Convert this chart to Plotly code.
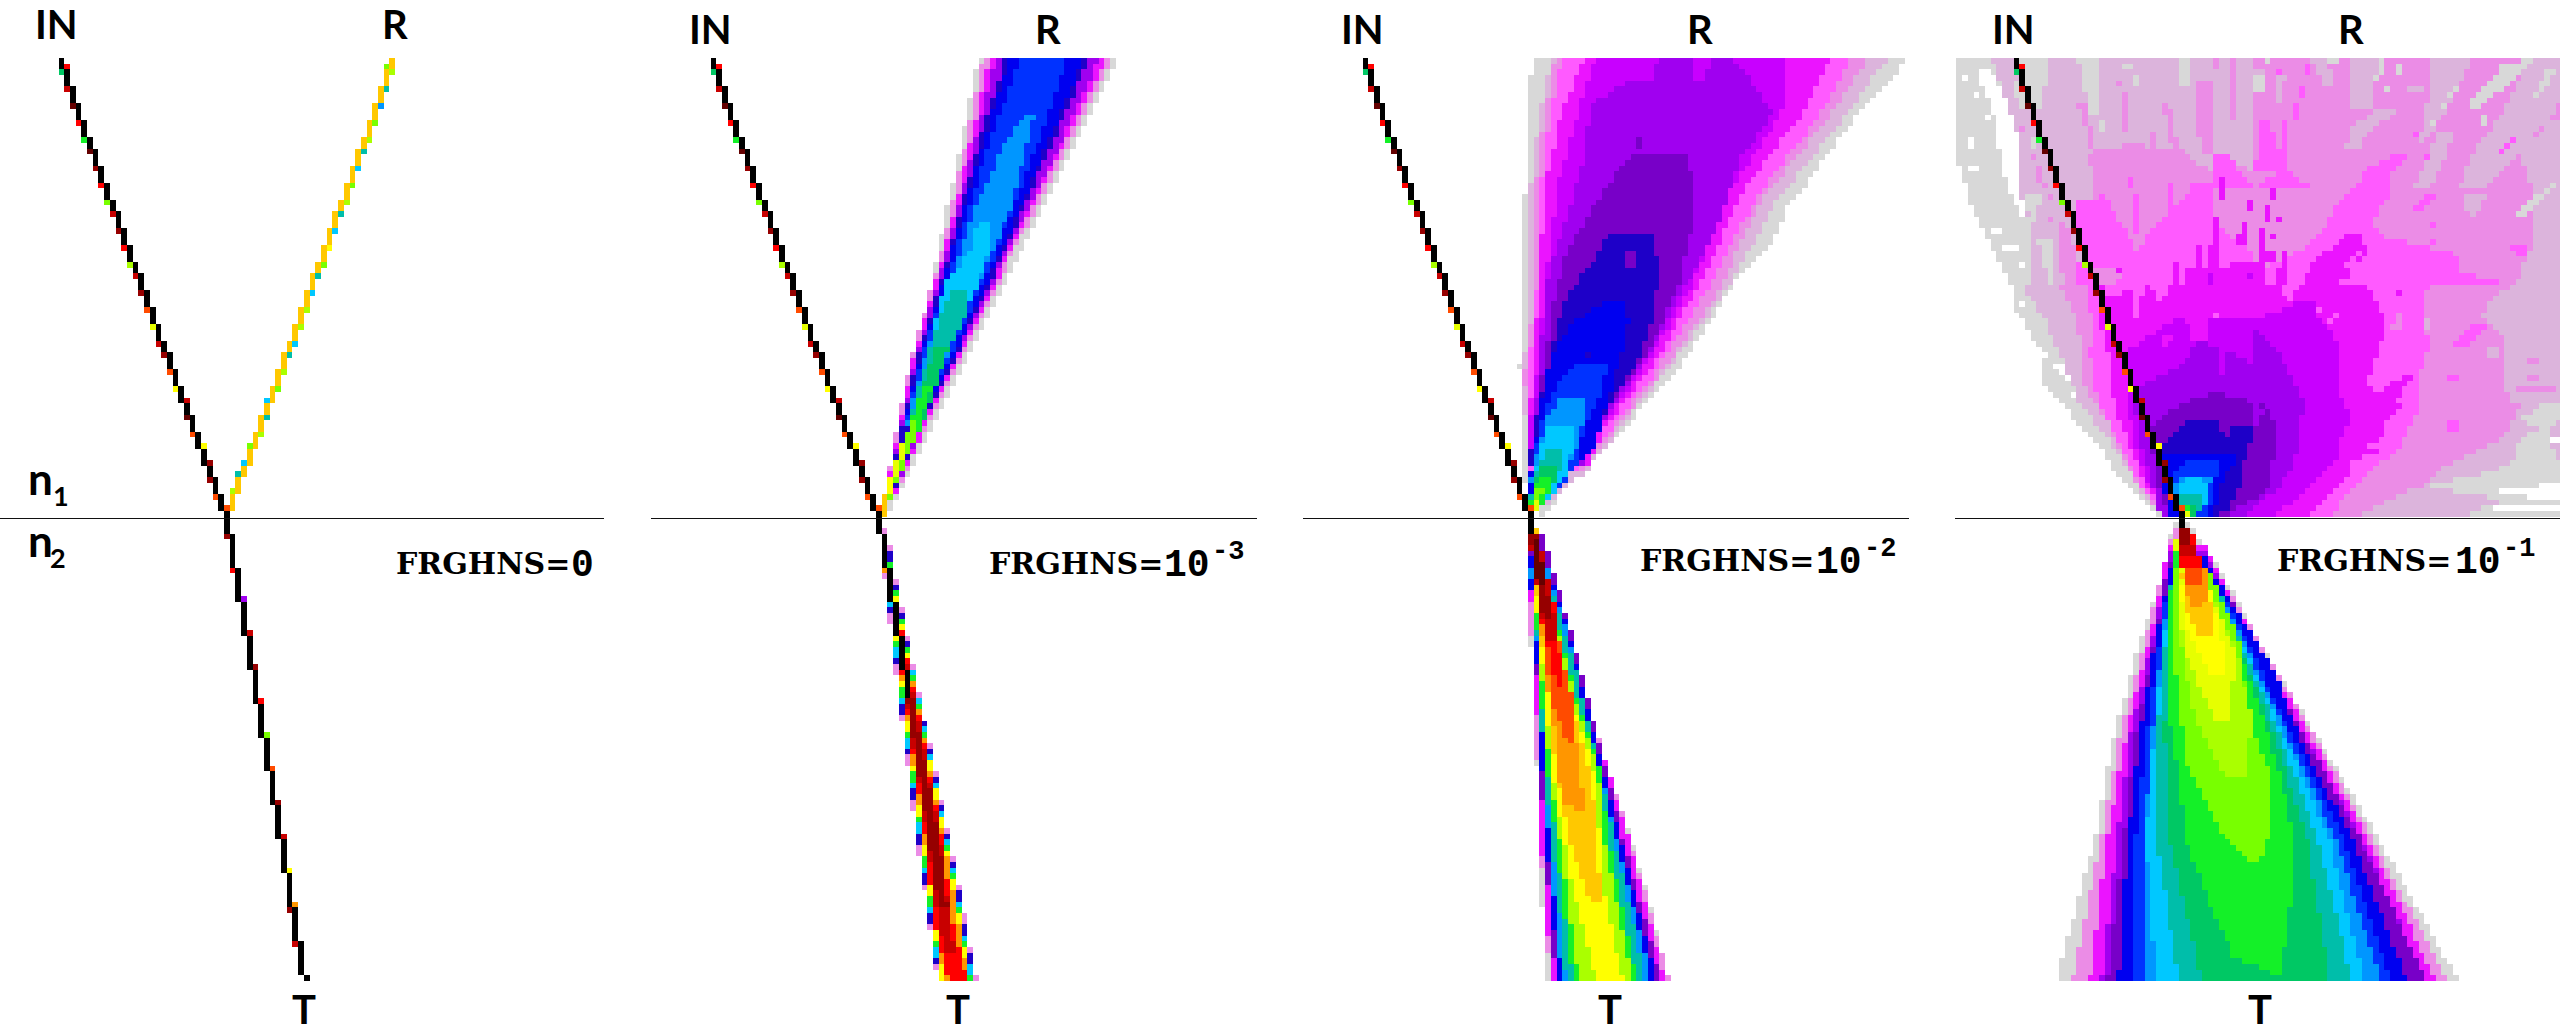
import numpy as np
import plotly.graph_objects as go

# Ordered intensity palette of the ray-density maps (level 0 = empty).
PALETTE = ["#FFFFFF", "#D8D8D8", "#DCB4DC", "#EB8CE6", "#FF5AFF", "#EB14FF", "#C800FF", "#A000F0",
           "#7800C8", "#1E00C8", "#0000F0", "#0032FF", "#0096FF", "#00C8FF", "#00BEAA", "#00C864",
           "#14F028", "#78FF00", "#AAFF00", "#E6FF00", "#FFFF00", "#FFC800", "#FF9600", "#FF4B00",
           "#FF0000", "#C80000", "#960000", "#640000", "#000000"]

RAY_LABELS = ["IN", "R", "T"]
TITLE_WORD = "FRGHNS="
TITLE_BASE = ["0", "10", "10", "10"]
TITLE_EXP = ["", "-3", "-2", "-1"]

# Iso-level outlines: (level, [(row, left, right), ...]) in read-off units.
R_P2 = [
 (1, [(162,805,1145),(1440,570,582)]),
 (3, [(170,815,1133),(400,772,1028),(700,716,893),(1000,640,764),(1200,603,676),(1400,572,596)]),
 (5, [(170,830,1115),(400,785,1015),(700,722,885),(1000,646,760),(1200,608,672),(1400,574,594)]),
 (7, [(170,845,1098),(400,793,1005),(700,728,878),(1000,652,752),(1200,612,664),(1400,576,592)]),
 (9, [(170,868,1075),(400,805,985),(700,735,870),(1000,656,748),(1200,614,660),(1400,578,590)]),
 (10,[(170,880,1062),(400,815,975),(700,740,862),(1000,662,745),(1200,620,655)]),
 (11,[(170,905,1022),(400,830,950),(700,750,850),(1000,665,735),(1200,622,650)]),
 (12,[(325,925,940),(375,885,925),(400,870,925),(600,790,880),(700,760,840),(1000,672,728),(1200,625,648)]),
 (13,[(620,800,830),(700,785,830),(800,720,800),(1000,680,725),(1200,628,645)]),
 (14,[(810,745,775),(900,705,770),(1000,680,720),(1100,655,695),(1200,630,640)]),
 (15,[(970,700,735),(1100,660,695),(1200,632,665),(1300,600,620)]),
 (16,[(1080,665,690),(1200,635,660),(1300,603,622)]),
 (17,[(1170,640,650),(1230,625,650),(1300,603,620),(1400,572,588)]),
 (19,[(1230,618,630),(1300,600,615),(1400,572,585)]),
 (20,[(1340,585,600),(1400,572,585)]),
 (21,[(1390,570,582),(1440,568,580)]),
]
T_P2 = [
 (3, [(90,558,582),(300,581,612),(600,610,664),(1000,652,734),(1417,704,800)]),
 (9, [(130,562,585),(300,584,610),(600,613,662),(1000,656,731),(1417,706,796)]),
 (13,[(180,567,590),(300,586,608),(600,616,660),(1000,660,728),(1417,708,790)]),
 (16,[(190,568,590),(300,588,606),(600,618,658),(1000,663,726),(1417,711,787)]),
 (20,[(200,570,590),(300,590,604),(600,620,656),(1000,666,724),(1417,714,783)]),
 (22,[(200,572,590),(300,592,602),(600,623,654),(1000,670,720),(1417,720,778)]),
 (24,[(210,575,590),(300,592,600),(600,625,652),(1000,674,716),(1250,695,742),(1417,732,775)]),
 (25,[(210,577,588),(300,593,600),(600,628,650),(1000,678,712),(1250,705,735),(1330,725,745)]),
 (26,[(300,594,600),(600,630,645),(1000,682,708),(1200,705,730)]),
]
R_P3 = [
 (1, [(162,573,1490),(262,558,1420),(300,558,1380),(500,558,1250),(590,545,1190),(650,545,1175),(800,545,1060),
      (1000,545,950),(1030,533,930),(1060,545,905),(1100,545,870),(1250,545,760),(1350,550,660),(1440,590,600)]),
 (2, [(162,615,1440),(320,587,1340),(560,560,1170),(840,558,1030),(1050,548,890),(1320,555,700),(1420,582,598)]),
 (3, [(162,625,1395),(320,598,1300),(560,572,1130),(840,572,1015),(1050,550,880),(1320,558,690)]),
 (4, [(162,640,1350),(320,612,1275),(560,585,1115),(800,580,1005),(1050,558,865),(1320,560,680)]),
 (5, [(162,697,1300),(320,640,1230),(520,600,1095),(800,585,975),(1000,572,878),(1200,560,745),(1300,560,710)]),
 (6, [(162,722,1190),(320,680,1180),(520,630,1060),(800,600,960),(1000,585,860),(1200,560,735),(1300,558,695)]),
 (7, [(170,875,1065),(300,710,1170),(450,695,1075),(600,655,1035),(800,600,945),(1000,590,850),(1200,570,730),(1300,560,690)]),
 (6, [(170,722,875),(230,800,860)]), (6, [(170,960,1010),(230,960,985)]), (6, [(170,1065,1170),(300,1150,1170)]),
 (7, [(300,880,895),(340,880,895)]),
 (8, [(440,810,950),(520,750,965),(600,710,970),(700,655,945),(800,628,930),(1000,600,845),(1150,580,750),(1300,558,680)]),
 (8, [(390,820,835),(420,820,835)]),
 (9, [(660,750,860),(730,720,875),(800,670,875),(900,630,860),(1000,615,835),(1150,582,750),(1300,558,670)]),
 (8, [(700,790,820),(745,790,820)]),
 (10,[(850,740,790),(900,670,805),(1000,615,785),(1100,595,760),(1250,575,720),(1380,558,625)]),
 (9, [(985,695,710),(1000,695,710)]),
 (11,[(1020,670,750),(1100,615,740),(1200,585,695),(1300,570,680),(1380,565,625)]),
 (12,[(1110,640,695),(1170,605,695),(1250,585,680),(1350,560,630)]),
 (13,[(1190,610,670),(1250,590,670),(1330,575,650),(1400,560,610)]),
 (14,[(1250,610,640),(1300,585,640),(1340,575,628),(1410,560,598)]),
 (15,[(1300,590,630),(1340,578,628),(1400,565,600)]),
 (16,[(1330,585,620),(1380,575,612),(1420,560,590)]),
 (17,[(1370,575,600),(1400,570,590)]),
 (19,[(1400,573,585),(1430,570,585)]),
 (23,[(1420,558,572),(1438,558,572)]),
]
T_P3 = [
 (1, [(100,560,590),(280,558,625),(660,575,718),(1030,587,820),(1417,600,905)]),
 (3, [(200,558,618),(600,572,705),(1000,588,808),(1417,612,905)]),
 (5, [(150,558,600),(500,575,680),(1000,590,805),(1417,615,895)]),
 (8, [(100,560,595),(400,575,665),(700,585,730),(1000,598,790),(1417,625,885)]),
 (10,[(170,558,600),(400,575,660),(700,588,722),(1000,602,785),(1417,632,872)]),
 (12,[(200,562,605),(400,578,655),(700,595,715),(1000,608,775),(1417,640,860)]),
 (14,[(280,572,620),(500,585,675),(800,598,735),(1000,615,770),(1417,652,845)]),
 (16,[(320,575,620),(600,592,680),(800,605,735),(1000,625,755),(1417,668,825)]),
 (18,[(350,580,625),(600,598,675),(800,612,730),(1000,635,745),(1417,682,815)]),
 (20,[(250,572,600),(600,603,670),(800,615,720),(1000,645,735),(1160,670,745),(1417,725,790)]),
 (21,[(90,575,585),(250,575,605),(600,610,665),(800,625,710),(1000,660,730),(1180,710,735)]),
 (22,[(260,585,605),(500,598,640),(700,625,675),(900,640,695),(912,680,695)]),
 (23,[(300,590,620),(450,600,640),(600,615,670),(712,655,670)]),
 (24,[(200,575,600),(330,585,625),(450,610,635),(550,628,640)]),
 (25,[(100,558,585),(320,590,620),(420,600,630)]),
 (26,[(100,560,585),(200,575,595),(350,595,615)]),
 (27,[(120,565,585),(250,582,600)]),
]
T_P4 = [
 (1, [(75,620,665),(200,600,735),(400,545,825),(700,475,975),(1000,430,1125),(1417,335,1320)]),
 (3, [(90,622,660),(300,578,775),(700,490,970),(1000,445,1110),(1417,375,1295)]),
 (5, [(130,610,700),(300,585,770),(700,505,960),(1000,460,1100),(1417,417,1265)]),
 (7, [(150,615,695),(300,592,765),(700,515,945),(1000,485,1085),(1417,445,1240)]),
 (8, [(180,605,700),(300,595,765),(700,528,945),(1000,500,1080),(1417,460,1240)]),
 (10,[(170,620,700),(300,597,760),(500,565,870),(700,540,930),(1000,510,1060),(1417,487,1195)]),
 (11,[(300,602,755),(700,555,915),(1000,530,1040),(1417,527,1155)]),
 (12,[(300,605,750),(700,570,905),(1000,550,1020),(1417,553,1130)]),
 (13,[(300,608,745),(700,575,895),(1000,555,1005),(1417,580,1090)]),
 (14,[(150,625,680),(300,610,745),(700,582,885),(1000,580,975),(1417,635,1060)]),
 (15,[(300,610,742),(700,600,870),(1000,612,950),(1417,692,1005)]),
 (16,[(150,628,675),(300,612,740),(600,605,830),(800,635,880),(1000,650,920),(1200,715,910),(1350,770,890),(1400,880,890)]),
 (17,[(200,627,705),(400,620,780),(650,640,810),(800,660,855),(1000,750,855),(1070,820,830)]),
 (18,[(300,630,725),(450,645,780),(650,675,815),(820,750,800)]),
 (19,[(120,628,665),(300,635,720),(450,650,775),(645,720,760)]),
 (20,[(250,632,710),(400,660,740),(515,710,745)]),
 (21,[(220,640,700),(330,655,718),(400,680,718)]),
 (22,[(180,640,695),(250,650,710),(315,665,695)]),
 (23,[(130,635,680),(250,650,690)]),
 (24,[(100,635,670),(200,640,690)]),
 (25,[(90,635,665),(170,640,675)]),
 (26,[(90,638,665),(140,640,660)]),
]

# Backscatter of the roughest surface, read quadrant by quadrant (same outline format, crop units).
P4_UPPER_LEFT = [
 (1, [(12,18,915),(300,18,915),(440,60,915),(500,85,915),(696,185,915)]),
 (0, [(40,75,120),(100,100,150),(200,135,205),(300,150,200),(400,170,215),(480,215,240)]),
 (0, [(60,35,52),(80,35,52)]), (0, [(110,70,85),(130,70,85)]), (0, [(180,105,120),(200,105,120)]),
 (0, [(250,50,65),(290,50,65)]), (0, [(340,55,85),(360,55,85)]), (0, [(520,120,150),(540,120,150)]),
 (0, [(570,155,200),(590,170,205)]), (0, [(620,205,220),(640,205,220)]),
 (2, [(12,125,915),(100,155,915),(250,205,915),(400,205,915),(500,240,915),(696,250,915)]),
 (1, [(12,215,300),(130,225,280),(170,255,280)]),
 (1, [(12,385,455),(120,405,455),(185,420,455)]),
 (1, [(12,690,720),(90,690,720)]), (1, [(200,455,470),(235,455,470)]), (1, [(35,520,555),(50,520,555)]),
 (1, [(70,555,570),(100,555,570)]), (1, [(80,190,220),(170,205,230)]), (1, [(250,235,255),(290,235,255)]),
 (1, [(420,230,270),(500,235,265)]), (1, [(560,265,305),(696,300,320)]),
 (3, [(290,430,690),(350,400,915),(400,440,915),(500,400,915),(696,400,915)]),
 (2, [(300,700,760),(390,860,890)]), (2, [(330,340,430),(420,390,440)]),
 (3, [(85,505,520),(240,525,540)]), (3, [(150,385,405),(280,420,440)]),
 (3, [(12,790,810),(50,790,810)]), (3, [(85,740,790),(300,750,790)]),
 (3, [(12,835,860),(200,840,860)]), (3, [(240,610,625),(300,610,625)]),
 (3, [(150,640,660),(290,665,685)]), (3, [(270,520,590),(330,500,590)]),
 (3, [(220,205,220),(240,205,220)]), (3, [(300,235,255),(320,235,255)]),
 (3, [(340,255,270),(400,270,290)]), (3, [(420,285,305),(440,285,305)]),
 (3, [(500,320,350),(696,340,400)]), (3, [(480,290,310),(500,290,310)]),
 (4, [(380,740,800),(500,640,790),(600,540,915),(696,500,915)]),
 (4, [(620,370,415),(696,390,440)]), (4, [(300,790,830),(400,800,915)]),
 (4, [(440,385,470),(560,385,550),(640,430,540)]), (4, [(375,535,555),(400,535,555)]),
 (4, [(420,455,470),(470,455,470)]), (4, [(420,555,570),(540,555,575)]), (4, [(390,660,670),(480,660,670)]),
 (5, [(375,808,822),(435,808,822)]), (5, [(490,790,805),(580,790,805)]), (5, [(575,740,755),(650,740,755)]),
 (5, [(575,775,805),(696,775,805)]), (5, [(625,675,690),(696,675,690)]), (5, [(640,710,915),(696,710,915)]),
 (5, [(505,875,890),(580,860,890)]), (5, [(620,840,915),(696,840,915)]), (5, [(640,505,520),(655,505,520)]),
 (5, [(435,890,905),(470,890,905)]), (6, [(655,775,790),(685,775,790)]), (6, [(655,890,910),(675,890,910)]),
]
P4_UPPER_RIGHT = [
 (3, [(12,0,915),(696,0,915)]),
 (2, [(12,280,380),(170,285,345)]), (2, [(12,170,220),(100,210,235)]),
 (2, [(12,520,650),(140,520,590),(270,490,510)]),
 (2, [(12,830,915),(150,760,915),(290,660,800),(400,610,690)]),
 (2, [(200,880,915),(300,800,915),(400,830,915),(550,840,915),(696,780,915)]),
 (2, [(170,360,430),(210,300,370),(280,270,310)]), (2, [(90,450,510),(110,450,510)]),
 (2, [(60,70,95),(150,60,75)]), (2, [(40,0,25),(120,0,25)]),
 (2, [(240,550,600),(400,480,530)]), (2, [(420,620,700),(480,640,660)]),
 (4, [(300,430,470),(350,330,410),(400,300,410),(450,240,390),(500,220,350),(550,180,400),(600,120,600),(650,0,620),(696,0,770)]),
 (4, [(200,20,45),(350,0,90)]), (4, [(200,75,95),(350,75,95),(400,0,175)]),
 (4, [(100,125,145),(130,125,145)]), (4, [(30,145,160),(70,145,160)]), (4, [(150,110,125),(200,110,125)]),
 (4, [(250,765,780),(300,720,750)]), (4, [(420,520,545),(470,470,495)]), (4, [(235,480,495),(250,480,495)]),
 (4, [(510,530,545),(520,530,545)]), (4, [(550,520,545),(570,520,545)]), (4, [(580,760,815),(610,790,830)]),
 (4, [(300,510,525),(320,510,525)]), (4, [(50,60,75),(65,60,75)]),
 (5, [(530,300,310),(580,230,330),(620,170,280),(696,140,240)]),
 (5, [(590,320,340),(620,310,325)]), (5, [(640,265,295),(680,245,275)]),
 (5, [(520,10,25),(696,0,30)]), (5, [(590,25,60),(620,25,60)]), (5, [(590,75,95),(640,75,95)]),
 (5, [(640,60,95),(696,60,95)]), (5, [(400,45,60),(435,45,60)]), (5, [(455,25,45),(500,25,45)]),
 (5, [(490,60,75),(500,60,75)]), (5, [(540,45,60),(552,45,60)]), (5, [(575,325,345),(590,325,345)]),
 (1, [(60,0,22),(120,0,22)]), (1, [(20,800,830),(90,700,760),(160,650,680)]),
 (1, [(20,375,395),(80,360,378)]), (1, [(35,430,445),(70,430,445)]), (1, [(100,680,710),(140,650,670)]),
 (1, [(30,730,800),(80,720,770)]), (1, [(200,530,545),(215,530,545)]), (1, [(180,680,695),(215,680,695)]),
 (1, [(380,900,915),(420,850,880),(480,790,810)]), (1, [(40,880,915),(130,830,850)]),
 (1, [(100,590,610),(130,580,595)]), (1, [(150,565,580),(165,565,580)]), (1, [(15,25,45),(30,25,45)]),
 (1, [(15,225,245),(30,225,245)]), (1, [(100,395,410),(115,395,410)]),
]
P4_LOWER_LEFT = [
 (1, [(0,185,915),(50,185,915),(100,215,915),(150,240,915),(200,290,915),(245,270,915),(300,285,915),(350,335,915),
      (400,370,915),(450,420,915),(500,460,915),(550,490,915),(600,530,915),(650,590,915),(696,640,915)]),
 (0, [(40,205,220),(70,220,240)]), (0, [(240,310,340),(280,340,360)]), (0, [(310,370,385),(330,370,385)]),
 (2, [(0,220,915),(50,250,915),(100,290,915),(150,300,915),(200,330,915),(250,345,915),(300,370,915),(350,385,915),
      (400,430,915),(450,470,915),(500,500,915),(550,535,915),(600,560,915),(650,600,915),(696,640,915)]),
 (3, [(0,330,915),(100,380,915),(200,395,915),(300,400,915),(400,470,915),(500,510,915),(600,570,915),(650,610,915),(696,640,915)]),
 (4, [(0,410,915),(50,410,915),(100,430,915),(200,420,915),(300,430,915),(400,470,915),(500,520,915),(600,575,915),(650,620,915),(696,640,915)]),
 (5, [(0,455,915),(60,440,915),(200,475,915),(300,485,915),(400,505,915),(500,550,915),(600,585,915),(650,630,915),(696,640,915)]),
 (4, [(0,460,535),(30,470,520)]), (4, [(0,535,585),(60,555,570),(105,555,570)]), (4, [(0,605,655),(50,620,640)]),
 (4, [(80,790,805),(110,790,805)]), (4, [(90,690,705),(130,690,705)]),
 (6, [(100,680,915),(150,600,915),(200,525,915),(300,530,915),(400,540,915),(500,560,915),(600,600,915),(650,640,915),(696,640,915)]),
 (5, [(100,710,770),(170,730,770)]), (5, [(140,640,670),(190,640,655)]),
 (7, [(170,740,760),(230,700,915),(300,580,915),(350,555,915),(400,560,915),(500,580,915),(600,610,915),(670,620,915),(696,640,880)]),
 (6, [(180,800,815),(260,810,830)]), (6, [(150,880,915),(220,880,915)]),
 (8, [(320,790,810),(350,710,915),(380,650,915),(420,610,915),(500,610,915),(600,625,915),(640,640,915),(660,640,870),(696,670,830)]),
 (7, [(295,740,755),(310,740,755)]),
 (9, [(400,710,800),(430,680,805),(480,640,880),(560,640,885),(620,640,860),(660,660,840),(696,680,800)]),
 (9, [(415,840,915),(520,840,890)]),
 (10,[(500,640,855),(520,640,860),(600,640,810),(696,660,790)]),
 (11,[(530,710,800),(570,660,800),(630,660,790),(696,690,770)]),
 (12,[(580,680,790),(600,670,780),(650,680,770)]),
 (13,[(565,725,740),(600,690,775),(630,680,770),(680,690,760)]),
 (14,[(630,690,755),(680,690,755)]),
 (15,[(650,690,740),(696,720,740)]),
 (16,[(650,690,725),(680,695,725)]),
 (22,[(665,690,705),(696,690,705)]),
 (19,[(680,705,725),(696,705,725)]),
]
P4_LOWER_RIGHT = [
 (2, [(0,0,915),(696,0,915)]),
 (1, [(360,850,915),(400,800,915),(430,850,880),(470,780,880),(520,780,915),(560,700,915),(600,510,915),(640,750,915),(696,610,915)]),
 (0, [(450,880,915),(465,880,915)]), (0, [(565,770,915),(580,760,915)]), (0, [(585,660,730),(595,660,730)]),
 (0, [(585,850,915),(600,850,915)]), (0, [(610,730,915),(620,730,915)]), (0, [(620,580,750),(630,580,750)]),
 (0, [(630,810,915),(645,810,915)]), (0, [(650,630,915),(660,630,915)]), (0, [(665,710,915),(680,710,915)]),
 (3, [(0,0,760),(100,0,700),(150,0,750),(200,0,740),(300,0,750),(400,0,780),(450,0,750),(500,0,650),(550,0,550),(600,0,500),(650,0,380),(696,0,300)]),
 (2, [(20,730,760),(100,670,700)]), (2, [(100,500,520),(130,500,520)]), (2, [(180,690,740),(210,690,740)]),
 (3, [(300,780,900),(320,780,900)]), (3, [(270,815,860),(280,815,860)]), (3, [(210,810,850),(225,810,850)]),
 (3, [(345,770,830),(380,720,780)]), (3, [(450,640,680),(480,620,660)]), (3, [(530,500,545),(545,500,545)]),
 (4, [(0,0,520),(100,0,500),(150,0,520),(200,0,520),(250,0,500),(300,0,500),(350,0,500),(400,0,480),(450,0,450),(500,0,420),(550,0,350),(600,0,300),(650,0,250),(696,0,240)]),
 (3, [(85,430,445),(130,410,430)]), (4, [(120,650,700),(175,590,650)]), (4, [(260,580,610),(280,580,610)]), (4, [(410,580,610),(430,580,610)]),
 (5, [(0,0,340),(100,0,395),(170,0,380),(250,0,350),(300,0,330),(350,0,440),(380,0,430),(410,0,395),(450,0,395),(480,0,330),(500,0,375),(520,0,280),(570,0,295),(600,0,240),(640,0,220),(696,0,140)]),
 (5, [(265,460,495),(290,415,460),(330,360,430)]), (5, [(10,430,445),(30,410,430)]),
 (4, [(0,80,125),(50,95,110)]), (4, [(60,175,195),(80,175,195)]), (4, [(85,230,250),(110,225,240)]),
 (6, [(50,130,180),(100,0,190),(150,0,240),(200,0,260),(300,0,245),(400,0,290),(450,0,260),(500,0,260),(550,0,210),(600,0,160),(650,0,110),(696,0,40)]),
 (7, [(130,0,10),(200,0,75),(300,0,125),(350,0,145),(400,0,140),(450,0,125),(500,0,125),(550,0,110),(600,0,75),(650,0,10)]),
 (8, [(330,0,10),(380,25,45),(420,0,60),(500,0,60),(550,0,45),(600,0,40),(640,0,10)]),
 (9, [(550,8,25),(562,8,25)]),
]

# Coloured cells at the stair joints of the pencil-thin rays: (row, level).
IN_ACCENTS = [(190,24),(222,15),(270,25),(317,27),(363,24),(395,16),(440,27),(488,26),(535,24),(566,17),(612,25),
              (660,26),(707,24),(740,18),(787,25),(833,26),(880,23),(911,19),(958,25),(1005,26),(1052,23),(1083,20),
              (1130,25),(1177,27),(1224,23),(1257,20),(1303,26),(1350,26),(1398,23),(1430,23)]
R_ACCENTS = [(1430,17),(1383,18),(1335,14),(1303,13),(1257,17),(1210,18),(1163,14),(1130,13),(1083,17),(1037,18),
             (990,14),(958,13),(911,18),(865,18),(817,13),(787,14),(740,17),(693,20),(645,13),(613,14),(566,18),
             (519,17),(472,13),(441,14),(394,18),(347,17),(300,12),(270,14),(222,18),(173,17)]
T_ACCENTS = [(260,26),(350,24),(425,7),(513,25),(603,26),(690,24),(780,17),(855,23),(943,26),(1032,25),(1120,20),
             (1195,22),(1283,26),(1373,25)]

# Read-off scales (units per picture pixel) and the picture frame.
SX, SY_UP, SY_LOW, SY_T1 = 2.45, 2.8, 2.947, 2.65
ROW_UP, ROW_LOW, ROW_T1 = 1453, 57, 210
APEX_READ = [555, 560, 565, 643]
APEX_X = [227, 879, 1531, 2182]
IFACE_Y, TOP_Y, BOT_Y = 518.5, 58.0, 980.6
CELL_W, CELL_H = 5.71, 5.66
IN_TIP, R_TIP, T_TIP = (-168, -461), (168, -461), (78, 462)
T_BLACK_END = [462, 180, 17, 12]
HLINE = [(0, 604), (651, 1257), (1303, 1909), (1955, 2560)]
CROPS_P4 = [(P4_UPPER_LEFT, 1950, 54), (P4_UPPER_RIGHT, 2255, 54), (P4_LOWER_LEFT, 1950, 286), (P4_LOWER_RIGHT, 2255, 286)]

nrow = int(round((BOT_Y - TOP_Y) / CELL_H))
col_lo, col_hi = -42, 67
ys = TOP_Y + (np.arange(nrow) + 0.5) * CELL_H - IFACE_Y
us = np.arange(col_lo, col_hi) * CELL_W


def paint(z, outlines, sx, sy, row0, apex):
    for level, rows in outlines:
        r = np.array(sorted(rows), float)
        v = (r[:, 0] - row0) / sy
        l = (r[:, 1] - apex) / sx
        h = (r[:, 2] - apex) / sx
        for i, y in enumerate(ys):
            if v[0] <= y <= v[-1] and ((y < 0) == (v[0] < 0)):
                a, b = np.interp(y, v, l), np.interp(y, v, h)
                z[i, (us >= a - 1e-6) & (us < b)] = level if level else np.nan


def ray(z, tip, level, v_end=None, accents=(), acc_v=None):
    """One-cell-wide ray from the apex to its tip; accents sit at the nearest stair joint."""
    lim = abs(tip[1]) if v_end is None else v_end
    cols = {}
    for i, y in enumerate(ys):
        if (y < 0) == (tip[1] < 0) and abs(y) <= lim:
            c = int(round(y / tip[1] * tip[0] / CELL_W)) - col_lo
            z[i, c] = level
            cols[i] = c
    joints = [i for i in cols if i + 1 in cols and cols[i] != cols[i + 1]]
    for row, lv in accents:
        i = int(np.argmin(np.abs(ys - acc_v(row))))
        if not joints:
            continue
        j = min(joints, key=lambda k: abs(k + 0.5 - i))
        if i > j:
            z[j + 1, cols[j]] = lv
        else:
            z[j, cols[j + 1]] = lv


acc_up = lambda r: (r - ROW_UP) / SY_UP
acc_t = lambda r: (r - ROW_T1) / SY_T1

BEAMS = [([], []), (R_P2, T_P2), (R_P3, T_P3), ([], T_P4)]
colorscale = []
for i, c in enumerate(PALETTE):
    colorscale += [[i / len(PALETTE), c], [(i + 1) / len(PALETTE), c]]

fig = go.Figure()
for p in range(4):
    z = np.full((nrow, col_hi - col_lo), np.nan)
    up, low = BEAMS[p]
    paint(z, up, SX, SY_UP, ROW_UP, APEX_READ[p])
    paint(z, low, SX, SY_LOW, ROW_LOW, APEX_READ[p])
    if p == 3:
        for table, cx, cy in CROPS_P4:
            paint(z, table, 3, 3, (IFACE_Y - cy) * 3, (APEX_X[p] - cx) * 3)
    if p == 0:
        ray(z, R_TIP, 21, accents=R_ACCENTS, acc_v=acc_up)
    ray(z, IN_TIP, 28, accents=IN_ACCENTS, acc_v=acc_up)
    ray(z, T_TIP, 28, v_end=T_BLACK_END[p], accents=T_ACCENTS if p == 0 else (), acc_v=acc_t)
    fig.add_trace(go.Heatmap(z=z, x0=APEX_X[p] + col_lo * CELL_W, dx=CELL_W, y0=TOP_Y + CELL_H / 2, dy=CELL_H,
                             zmin=-0.5, zmax=len(PALETTE) - 0.5, colorscale=colorscale, showscale=False,
                             hoverongaps=False))
    fig.add_trace(go.Scatter(x=list(HLINE[p]), y=[IFACE_Y, IFACE_Y], mode="lines", showlegend=False,
                             line=dict(color="#111111", width=1)))

IN_XY = [(56, 24), (710, 29), (1362, 29), (2013, 29)]
R_XY = [(395, 24), (1048, 29), (1700, 29), (2351, 29)]
T_XY = [(304, 1009), (958, 1009), (1610, 1009), (2260, 1009)]
WORD_XY = [(395, 563), (988, 563), (1639, 560), (2276, 560)]
BASE_X = [570, 1163, 1815, 2454]
EXP_XY = [None, (1211, 552), (1863, 549), (2502, 549)]
ann = []


def label(x, y, text, family, size, anchor="center"):
    ann.append(dict(x=x, y=y, text=f"<b>{text}</b>", showarrow=False, xanchor=anchor,
                    yanchor="middle", borderpad=0, font=dict(family=family, size=size, color="#000000")))


for p in range(4):
    for text, (x, y) in zip(RAY_LABELS, (IN_XY[p], R_XY[p], T_XY[p])):
        label(x, y, text, "Lato", 40)
    label(WORD_XY[p][0], WORD_XY[p][1], TITLE_WORD, "DejaVu Serif", 30, "left")
    label(BASE_X[p], WORD_XY[p][1] + 2, TITLE_BASE[p], "Liberation Mono", 38, "left")
    if EXP_XY[p]:
        label(EXP_XY[p][0], EXP_XY[p][1], TITLE_EXP[p], "Liberation Mono", 27, "left")
label(40, 478, "n", "Lato", 44)
label(61, 495, "1", "Lato", 27)
label(40, 540, "n", "Lato", 44)
label(58, 557, "2", "Lato", 27)

fig.update_layout(width=2560, height=1032, margin=dict(l=0, r=0, t=0, b=0), autosize=False,
                  paper_bgcolor="white", plot_bgcolor="white", showlegend=False, annotations=ann,
                  xaxis=dict(range=[0, 2560], visible=False, domain=[0, 1]),
                  yaxis=dict(range=[1032, 0], visible=False, domain=[0, 1]))
fig.write_html("out.html", config={"displayModeBar": False},
               post_script="document.body.style.margin='0';document.body.style.overflow='hidden';")
